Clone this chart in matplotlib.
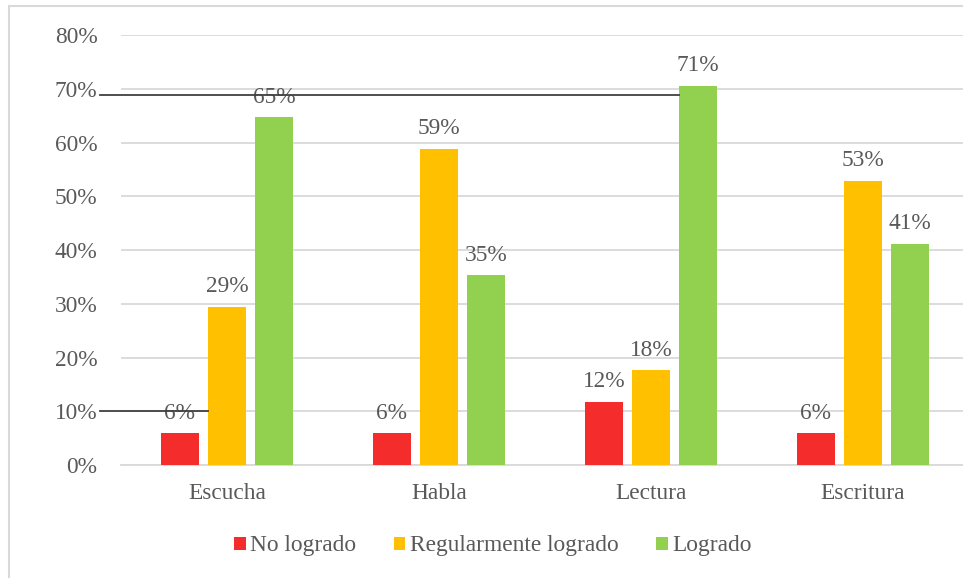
import matplotlib
matplotlib.use("Agg")
import matplotlib.pyplot as plt
from matplotlib.patches import Rectangle
import numpy as np

# data
categories = ["Escucha", "Habla", "Lectura", "Escritura"]
series_names = ["No logrado", "Regularmente logrado", "Logrado"]
no_logrado = [0.059, 0.059, 0.118, 0.059]
regular = [0.294, 0.588, 0.176, 0.529]
logrado = [0.647, 0.353, 0.706, 0.412]
colors = ["#F52C2C", "#FFC000", "#92D050"]

# stray black rules visible in the source image (y value, x start, x end in category units)
rule_y = [0.688, 0.10]
rule_x0 = [-0.6, -0.6]
rule_x1 = [2.132, -0.09]

plt.rcParams['font.family'] = ['Liberation Serif', 'DejaVu Serif']
text_color = "#595959"
fs = 16.8

fig = plt.figure(figsize=(9.63, 5.78), dpi=100)
ax = fig.add_axes([0.1257, 0.1955, 0.8805, 0.7439])

# light frame around the chart (only top/left visible in the crop)
fig.patches.append(Rectangle((9 / 963, -0.1), 1.2, 0.1 + 1 - 6 / 578, transform=fig.transFigure,
                             fill=False, edgecolor="#D9D9D9", linewidth=1.5))

x = np.arange(len(categories))
width = 0.18
step = 0.222
for i, (vals, name) in enumerate(zip([no_logrado, regular, logrado], series_names)):
    pos = x + (i - 1) * step
    bars = ax.bar(pos, vals, width, color=colors[i], label=name, zorder=3)
    for b, v in zip(bars, vals):
        ax.annotate(f"{v:.0%}", (b.get_x() + b.get_width() / 2, v),
                    xytext=(0, 7), textcoords="offset points",
                    ha="center", va="bottom", fontsize=fs, color=text_color, zorder=4)

for y, a, b in zip(rule_y, rule_x0, rule_x1):
    ax.plot([a, b], [y, y], color="#404040", linewidth=1.3, clip_on=False, zorder=5)

ax.set_xlim(-0.5, len(categories) - 0.5)
ax.set_ylim(0, 0.8)
ax.set_yticks(np.arange(0, 0.81, 0.1))
ax.set_yticklabels([f"{t:.0%}" for t in np.arange(0, 0.81, 0.1)])
ax.set_xticks(x)
ax.set_xticklabels(categories)
ax.tick_params(axis="y", length=0, pad=17, labelsize=fs, labelcolor=text_color)
ax.tick_params(axis="x", length=0, pad=13, labelsize=fs, labelcolor=text_color)
ax.yaxis.grid(True, color="#D9D9D9", linewidth=1.3, zorder=0)
for s in ["top", "right", "left"]:
    ax.spines[s].set_visible(False)
ax.spines["bottom"].set_color("#D9D9D9")
ax.spines["bottom"].set_linewidth(1.3)

fig.legend(loc="center", bbox_to_anchor=(493 / 963, 1 - 546 / 578), ncol=3, frameon=False,
           fontsize=fs, labelcolor=text_color, handlelength=0.5, handleheight=0.5,
           handletextpad=0.2, columnspacing=1.6)

fig.savefig("out.png", dpi=100)
